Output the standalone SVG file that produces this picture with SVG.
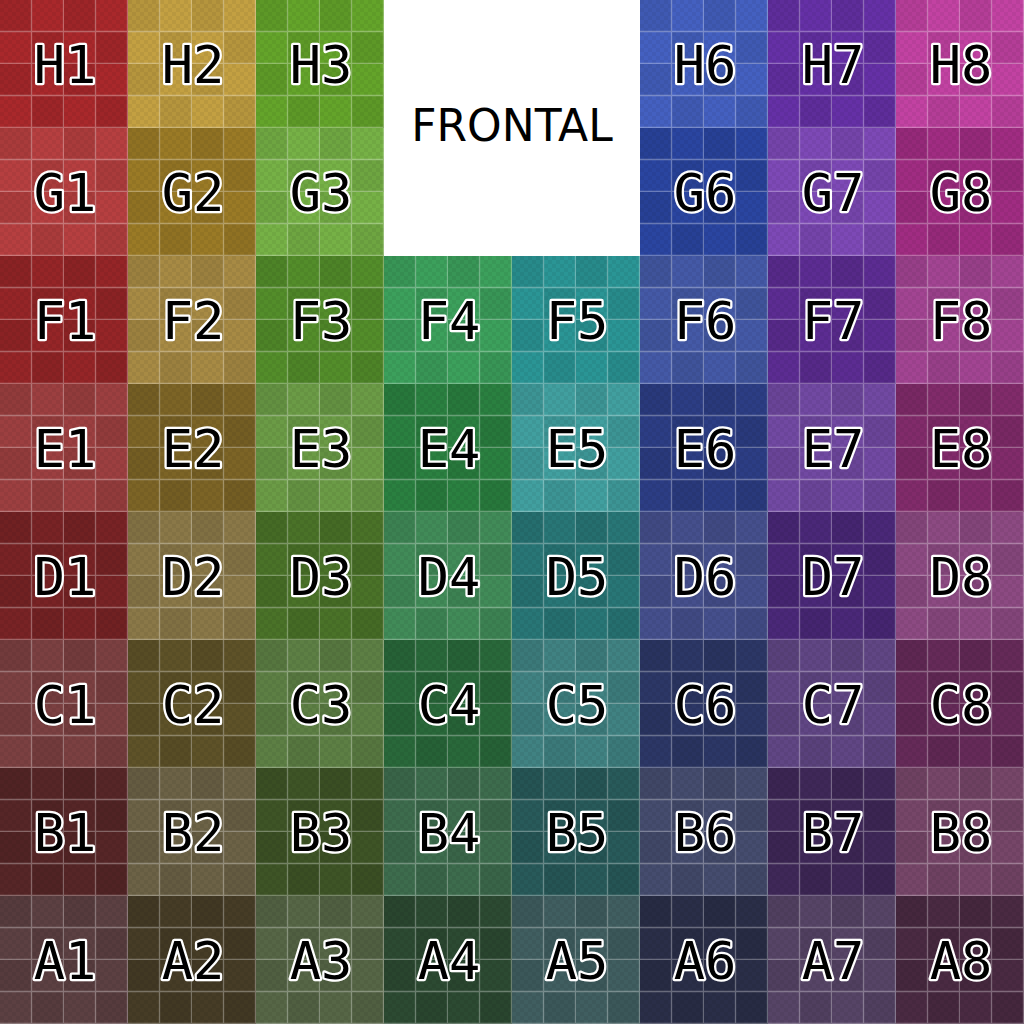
<svg xmlns="http://www.w3.org/2000/svg" width="1024" height="1024" viewBox="0 0 1024 1024">
<style>
.lbl{font-family:"DejaVu Sans Mono","Liberation Mono",monospace;font-size:52px;fill:#000;stroke:#fff;stroke-width:4.5px;stroke-linejoin:round;paint-order:stroke;text-anchor:middle}
.tex{fill:url(#tex)}
.front{font-family:"DejaVu Sans","Liberation Sans",sans-serif;font-size:44px;fill:#000;text-anchor:middle}
</style>
<defs>
<pattern id="fine" width="8" height="8" patternUnits="userSpaceOnUse">
<rect x="0" y="0" width="4" height="4" fill="#000" fill-opacity="0.05"/>
<rect x="4" y="4" width="4" height="4" fill="#000" fill-opacity="0.05"/>
</pattern>
<pattern id="tex" width="64" height="64" patternUnits="userSpaceOnUse">
<rect x="0" y="0" width="32" height="32" fill="#000" fill-opacity="0.07"/>
<rect x="32" y="32" width="32" height="32" fill="#000" fill-opacity="0.07"/>
<rect x="0" y="0" width="64" height="64" fill="url(#fine)"/>
<path d="M31.5 0V64M63.5 0V64M0 31.5H64M0 63.5H64" stroke="#fff" stroke-opacity="0.3" stroke-width="1.3" fill="none"/>
</pattern>
</defs>
<rect width="1024" height="1024" fill="#fff"/>
<g id="cells">
<g id="H1"><rect x="0" y="0" width="128" height="128" fill="#a9282b"/><rect class="tex" x="0" y="0" width="128" height="128"/><text class="lbl" x="65" y="83">H1</text></g>
<g id="H2"><rect x="128" y="0" width="128" height="128" fill="#c3a042"/><rect class="tex" x="128" y="0" width="128" height="128"/><text class="lbl" x="193" y="83">H2</text></g>
<g id="H3"><rect x="256" y="0" width="128" height="128" fill="#64a42a"/><rect class="tex" x="256" y="0" width="128" height="128"/><text class="lbl" x="321" y="83">H3</text></g>
<g id="H6"><rect x="640" y="0" width="128" height="128" fill="#4460c0"/><rect class="tex" x="640" y="0" width="128" height="128"/><text class="lbl" x="705" y="83">H6</text></g>
<g id="H7"><rect x="768" y="0" width="128" height="128" fill="#6530a6"/><rect class="tex" x="768" y="0" width="128" height="128"/><text class="lbl" x="833" y="83">H7</text></g>
<g id="H8"><rect x="896" y="0" width="128" height="128" fill="#c242a2"/><rect class="tex" x="896" y="0" width="128" height="128"/><text class="lbl" x="961" y="83">H8</text></g>

<g id="G1"><rect x="0" y="128" width="128" height="128" fill="#b63f40"/><rect class="tex" x="0" y="128" width="128" height="128"/><text class="lbl" x="65" y="211">G1</text></g>
<g id="G2"><rect x="128" y="128" width="128" height="128" fill="#9a7a26"/><rect class="tex" x="128" y="128" width="128" height="128"/><text class="lbl" x="193" y="211">G2</text></g>
<g id="G3"><rect x="256" y="128" width="128" height="128" fill="#76b146"/><rect class="tex" x="256" y="128" width="128" height="128"/><text class="lbl" x="321" y="211">G3</text></g>
<g id="G6"><rect x="640" y="128" width="128" height="128" fill="#2a45a0"/><rect class="tex" x="640" y="128" width="128" height="128"/><text class="lbl" x="705" y="211">G6</text></g>
<g id="G7"><rect x="768" y="128" width="128" height="128" fill="#7d49b6"/><rect class="tex" x="768" y="128" width="128" height="128"/><text class="lbl" x="833" y="211">G7</text></g>
<g id="G8"><rect x="896" y="128" width="128" height="128" fill="#a02c82"/><rect class="tex" x="896" y="128" width="128" height="128"/><text class="lbl" x="961" y="211">G8</text></g>

<g id="F1"><rect x="0" y="256" width="128" height="128" fill="#952527"/><rect class="tex" x="0" y="256" width="128" height="128"/><text class="lbl" x="65" y="339">F1</text></g>
<g id="F2"><rect x="128" y="256" width="128" height="128" fill="#a78a44"/><rect class="tex" x="128" y="256" width="128" height="128"/><text class="lbl" x="193" y="339">F2</text></g>
<g id="F3"><rect x="256" y="256" width="128" height="128" fill="#538d2a"/><rect class="tex" x="256" y="256" width="128" height="128"/><text class="lbl" x="321" y="339">F3</text></g>
<g id="F4"><rect x="384" y="256" width="128" height="128" fill="#3ca05c"/><rect class="tex" x="384" y="256" width="128" height="128"/><text class="lbl" x="449" y="339">F4</text></g>
<g id="F5"><rect x="512" y="256" width="128" height="128" fill="#2a9595"/><rect class="tex" x="512" y="256" width="128" height="128"/><text class="lbl" x="577" y="339">F5</text></g>
<g id="F6"><rect x="640" y="256" width="128" height="128" fill="#4459a6"/><rect class="tex" x="640" y="256" width="128" height="128"/><text class="lbl" x="705" y="339">F6</text></g>
<g id="F7"><rect x="768" y="256" width="128" height="128" fill="#5c2c92"/><rect class="tex" x="768" y="256" width="128" height="128"/><text class="lbl" x="833" y="339">F7</text></g>
<g id="F8"><rect x="896" y="256" width="128" height="128" fill="#a24492"/><rect class="tex" x="896" y="256" width="128" height="128"/><text class="lbl" x="961" y="339">F8</text></g>

<g id="E1"><rect x="0" y="384" width="128" height="128" fill="#9c3f40"/><rect class="tex" x="0" y="384" width="128" height="128"/><text class="lbl" x="65" y="467">E1</text></g>
<g id="E2"><rect x="128" y="384" width="128" height="128" fill="#7c6426"/><rect class="tex" x="128" y="384" width="128" height="128"/><text class="lbl" x="193" y="467">E2</text></g>
<g id="E3"><rect x="256" y="384" width="128" height="128" fill="#6b9b46"/><rect class="tex" x="256" y="384" width="128" height="128"/><text class="lbl" x="321" y="467">E3</text></g>
<g id="E4"><rect x="384" y="384" width="128" height="128" fill="#2a8040"/><rect class="tex" x="384" y="384" width="128" height="128"/><text class="lbl" x="449" y="467">E4</text></g>
<g id="E5"><rect x="512" y="384" width="128" height="128" fill="#419f9f"/><rect class="tex" x="512" y="384" width="128" height="128"/><text class="lbl" x="577" y="467">E5</text></g>
<g id="E6"><rect x="640" y="384" width="128" height="128" fill="#2c3d84"/><rect class="tex" x="640" y="384" width="128" height="128"/><text class="lbl" x="705" y="467">E6</text></g>
<g id="E7"><rect x="768" y="384" width="128" height="128" fill="#7149a2"/><rect class="tex" x="768" y="384" width="128" height="128"/><text class="lbl" x="833" y="467">E7</text></g>
<g id="E8"><rect x="896" y="384" width="128" height="128" fill="#812b6a"/><rect class="tex" x="896" y="384" width="128" height="128"/><text class="lbl" x="961" y="467">E8</text></g>

<g id="D1"><rect x="0" y="512" width="128" height="128" fill="#782325"/><rect class="tex" x="0" y="512" width="128" height="128"/><text class="lbl" x="65" y="595">D1</text></g>
<g id="D2"><rect x="128" y="512" width="128" height="128" fill="#8a7848"/><rect class="tex" x="128" y="512" width="128" height="128"/><text class="lbl" x="193" y="595">D2</text></g>
<g id="D3"><rect x="256" y="512" width="128" height="128" fill="#4a7228"/><rect class="tex" x="256" y="512" width="128" height="128"/><text class="lbl" x="321" y="595">D3</text></g>
<g id="D4"><rect x="384" y="512" width="128" height="128" fill="#418b58"/><rect class="tex" x="384" y="512" width="128" height="128"/><text class="lbl" x="449" y="595">D4</text></g>
<g id="D5"><rect x="512" y="512" width="128" height="128" fill="#287676"/><rect class="tex" x="512" y="512" width="128" height="128"/><text class="lbl" x="577" y="595">D5</text></g>
<g id="D6"><rect x="640" y="512" width="128" height="128" fill="#454f8c"/><rect class="tex" x="640" y="512" width="128" height="128"/><text class="lbl" x="705" y="595">D6</text></g>
<g id="D7"><rect x="768" y="512" width="128" height="128" fill="#4a2878"/><rect class="tex" x="768" y="512" width="128" height="128"/><text class="lbl" x="833" y="595">D7</text></g>
<g id="D8"><rect x="896" y="512" width="128" height="128" fill="#8c4a82"/><rect class="tex" x="896" y="512" width="128" height="128"/><text class="lbl" x="961" y="595">D8</text></g>

<g id="C1"><rect x="0" y="640" width="128" height="128" fill="#7b4041"/><rect class="tex" x="0" y="640" width="128" height="128"/><text class="lbl" x="65" y="723">C1</text></g>
<g id="C2"><rect x="128" y="640" width="128" height="128" fill="#5e5228"/><rect class="tex" x="128" y="640" width="128" height="128"/><text class="lbl" x="193" y="723">C2</text></g>
<g id="C3"><rect x="256" y="640" width="128" height="128" fill="#5d7f44"/><rect class="tex" x="256" y="640" width="128" height="128"/><text class="lbl" x="321" y="723">C3</text></g>
<g id="C4"><rect x="384" y="640" width="128" height="128" fill="#29683a"/><rect class="tex" x="384" y="640" width="128" height="128"/><text class="lbl" x="449" y="723">C4</text></g>
<g id="C5"><rect x="512" y="640" width="128" height="128" fill="#408282"/><rect class="tex" x="512" y="640" width="128" height="128"/><text class="lbl" x="577" y="723">C5</text></g>
<g id="C6"><rect x="640" y="640" width="128" height="128" fill="#2c3766"/><rect class="tex" x="640" y="640" width="128" height="128"/><text class="lbl" x="705" y="723">C6</text></g>
<g id="C7"><rect x="768" y="640" width="128" height="128" fill="#604684"/><rect class="tex" x="768" y="640" width="128" height="128"/><text class="lbl" x="833" y="723">C7</text></g>
<g id="C8"><rect x="896" y="640" width="128" height="128" fill="#652a58"/><rect class="tex" x="896" y="640" width="128" height="128"/><text class="lbl" x="961" y="723">C8</text></g>

<g id="B1"><rect x="0" y="768" width="128" height="128" fill="#562627"/><rect class="tex" x="0" y="768" width="128" height="128"/><text class="lbl" x="65" y="851">B1</text></g>
<g id="B2"><rect x="128" y="768" width="128" height="128" fill="#6c6246"/><rect class="tex" x="128" y="768" width="128" height="128"/><text class="lbl" x="193" y="851">B2</text></g>
<g id="B3"><rect x="256" y="768" width="128" height="128" fill="#3e5426"/><rect class="tex" x="256" y="768" width="128" height="128"/><text class="lbl" x="321" y="851">B3</text></g>
<g id="B4"><rect x="384" y="768" width="128" height="128" fill="#3d6c4d"/><rect class="tex" x="384" y="768" width="128" height="128"/><text class="lbl" x="449" y="851">B4</text></g>
<g id="B5"><rect x="512" y="768" width="128" height="128" fill="#285a5a"/><rect class="tex" x="512" y="768" width="128" height="128"/><text class="lbl" x="577" y="851">B5</text></g>
<g id="B6"><rect x="640" y="768" width="128" height="128" fill="#454c6e"/><rect class="tex" x="640" y="768" width="128" height="128"/><text class="lbl" x="705" y="851">B6</text></g>
<g id="B7"><rect x="768" y="768" width="128" height="128" fill="#3f2858"/><rect class="tex" x="768" y="768" width="128" height="128"/><text class="lbl" x="833" y="851">B7</text></g>
<g id="B8"><rect x="896" y="768" width="128" height="128" fill="#764668"/><rect class="tex" x="896" y="768" width="128" height="128"/><text class="lbl" x="961" y="851">B8</text></g>

<g id="A1"><rect x="0" y="896" width="128" height="128" fill="#5c4042"/><rect class="tex" x="0" y="896" width="128" height="128"/><text class="lbl" x="65" y="979">A1</text></g>
<g id="A2"><rect x="128" y="896" width="128" height="128" fill="#463c26"/><rect class="tex" x="128" y="896" width="128" height="128"/><text class="lbl" x="193" y="979">A2</text></g>
<g id="A3"><rect x="256" y="896" width="128" height="128" fill="#566646"/><rect class="tex" x="256" y="896" width="128" height="128"/><text class="lbl" x="321" y="979">A3</text></g>
<g id="A4"><rect x="384" y="896" width="128" height="128" fill="#2c4a32"/><rect class="tex" x="384" y="896" width="128" height="128"/><text class="lbl" x="449" y="979">A4</text></g>
<g id="A5"><rect x="512" y="896" width="128" height="128" fill="#405e60"/><rect class="tex" x="512" y="896" width="128" height="128"/><text class="lbl" x="577" y="979">A5</text></g>
<g id="A6"><rect x="640" y="896" width="128" height="128" fill="#2a2e48"/><rect class="tex" x="640" y="896" width="128" height="128"/><text class="lbl" x="705" y="979">A6</text></g>
<g id="A7"><rect x="768" y="896" width="128" height="128" fill="#564466"/><rect class="tex" x="768" y="896" width="128" height="128"/><text class="lbl" x="833" y="979">A7</text></g>
<g id="A8"><rect x="896" y="896" width="128" height="128" fill="#4a2a42"/><rect class="tex" x="896" y="896" width="128" height="128"/><text class="lbl" x="961" y="979">A8</text></g>

<g id="FRONTAL"><rect x="384" y="0" width="256" height="256" fill="#fff"/><text class="front" x="512" y="141">FRONTAL</text></g>
</g>
<g id="connectors"/>
</svg>
